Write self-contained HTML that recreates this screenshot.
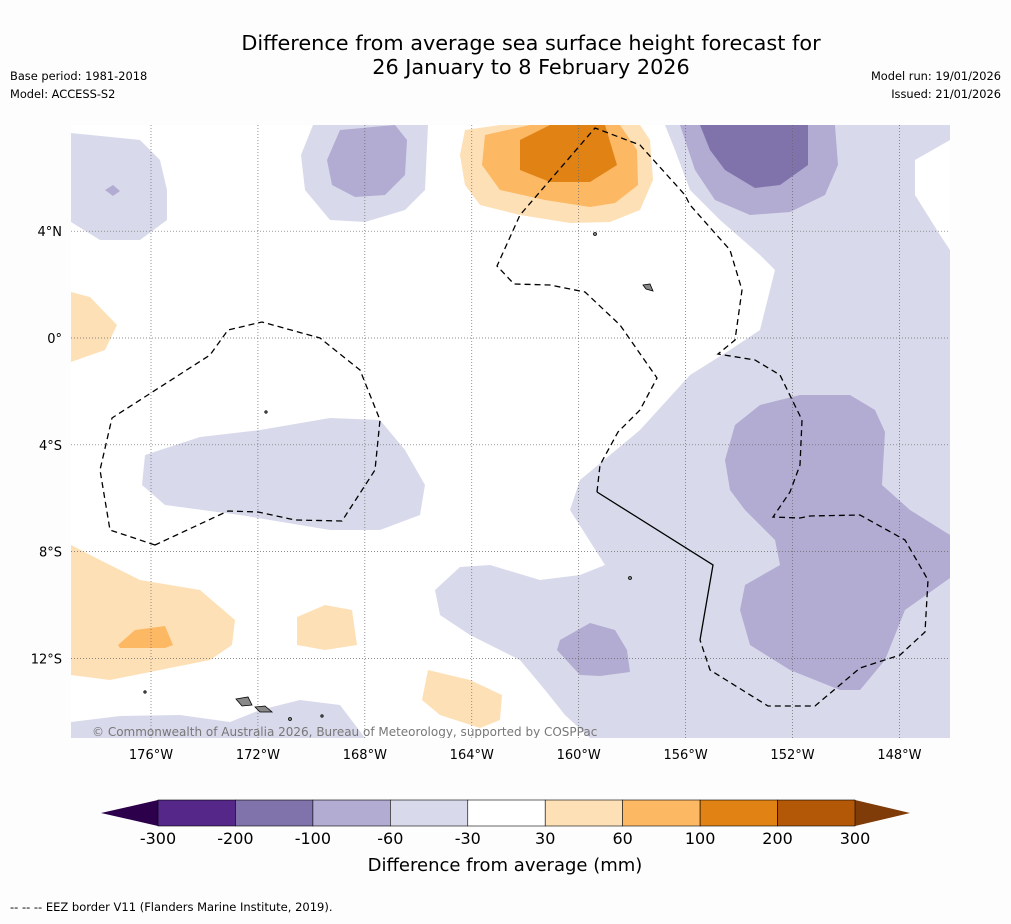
<!DOCTYPE html>
<html><head><meta charset="utf-8"><style>
body{margin:0;background:#fdfdfd;font-family:"Liberation Sans","DejaVu Sans",sans-serif;}
svg text{font-family:"DejaVu Sans","Liberation Sans",sans-serif;}
</style></head><body>
<svg id="s" width="1011" height="919" viewBox="0 0 1011 919" xmlns="http://www.w3.org/2000/svg">
<rect width="1011" height="919" fill="#fdfdfd"/>
<text x="531" y="50" font-size="20.8" text-anchor="middle">Difference from average sea surface height forecast for</text>
<text x="531" y="74" font-size="20.8" text-anchor="middle">26 January to 8 February 2026</text>
<text x="10" y="80" font-size="11.4">Base period: 1981-2018</text>
<text x="10" y="98" font-size="11.4">Model: ACCESS-S2</text>
<text x="1001" y="80" font-size="11.4" text-anchor="end">Model run: 19/01/2026</text>
<text x="1001" y="98" font-size="11.4" text-anchor="end">Issued: 21/01/2026</text>
<defs><clipPath id="mc"><rect x="71" y="125" width="879" height="613"/></clipPath></defs>
<g clip-path="url(#mc)">
<rect x="71" y="125" width="879" height="613" fill="#fff"/>
<g fill="#d8daeb">
<polygon points="71,133 140,140 160,160 167,190 167,220 140,240 100,240 71,222"/>
<polygon points="313,125 428,125 425,190 405,210 365,222 330,220 305,190 301,155"/>
<polygon points="665,125 950,125 950,140 915,160 915,195 940,235 950,250 950,738 590,738 565,715 545,690 520,660 470,635 440,615 435,590 460,567 490,565 540,580 580,575 605,565 570,510 580,480 640,430 690,375 730,350 760,330 775,270 760,255 720,220 690,190 675,150"/>
<polygon points="145,455 200,437 260,430 330,418 380,420 405,450 425,485 420,515 380,530 330,530 240,515 165,505 142,485"/>
<polygon points="71,722 120,716 180,715 230,722 260,710 300,700 340,705 365,738 71,738"/>
</g>
<g fill="#b2abd2">
<polygon points="340,130 395,125 407,140 405,175 385,195 355,197 332,185 327,160"/>
<polygon points="680,125 835,125 838,165 825,195 790,212 750,215 715,200 695,170"/>
<polygon points="735,425 760,405 800,395 850,395 875,410 885,432 882,485 910,510 950,535 950,578 905,610 885,660 860,690 840,690 790,670 750,645 740,610 745,585 780,565 775,540 745,510 730,490 725,460"/>
<polygon points="105,190 113,185 120,191 113,196"/>
<polygon points="560,640 590,623 615,630 627,650 630,672 600,676 580,675 557,650"/>
</g>
<polygon fill="#8073ac" points="700,125 808,125 808,165 780,185 755,188 725,170 710,150"/>
<g fill="#fee0b6">
<polygon points="465,130 500,125 640,125 650,140 653,180 640,210 610,222 570,223 520,215 480,205 465,185 460,155"/>
<polygon points="71,292 90,297 117,325 105,350 71,362"/>
<polygon points="71,545 100,560 140,580 200,590 235,620 232,645 210,660 150,672 110,680 71,675"/>
<polygon points="297,617 325,605 352,610 357,645 325,650 297,645"/>
<polygon points="428,670 470,680 502,695 500,720 480,728 440,715 422,700"/>
</g>
<g fill="#fdb863">
<polygon points="485,135 530,125 620,125 637,150 638,185 615,203 590,207 545,200 500,190 482,165"/>
<polygon points="118,645 135,630 165,626 173,645 165,648 120,648"/>
</g>
<polygon fill="#e08214" points="520,140 550,125 605,125 617,165 590,182 550,182 520,170"/>
<g id="grid" stroke="#666" stroke-width="0.7" stroke-dasharray="1,2"></g>
<g fill="none" stroke="#000" stroke-width="1.3">
<polyline stroke-dasharray="6,4" points="155,545 110,530 100,470 112,418 210,355 228,330 262,322 320,338 360,370 380,420 375,470 342,521 295,520 258,512 228,511 155,545"/>
<polyline stroke-dasharray="6,4" points="597,492 600,465 618,432 640,410 657,378 620,325 585,292 550,285 514,284 497,266 520,215 595,128 640,145 667,175 685,195 690,205 730,250 742,290 735,340 718,354 755,360 780,375 802,420 800,465 790,492 773,517 800,518 810,516 860,515 905,540 928,580 925,632 900,655 860,668 815,706 768,706 710,670 700,640"/>
<polyline points="597,492 713,565 700,640"/>
</g>
<g fill="#888" stroke="#000" stroke-width="0.8">
<polygon points="236,699 248,697 252,705 242,706"/>
<polygon points="255,707 265,706 272,712 260,712"/>
<polygon points="643,285 650,284 653,291 646,289"/>
<circle cx="595" cy="234" r="1.5"/><circle cx="630" cy="578" r="1.5"/><circle cx="266" cy="412" r="1.2"/>
<circle cx="145" cy="692" r="1.2"/><circle cx="290" cy="719" r="1.5"/><circle cx="322" cy="716" r="1.2"/>
</g>
<text x="92" y="736" font-size="12" fill="#777">© Commonwealth of Australia 2026, Bureau of Meteorology, supported by COSPPac</text>
</g>
<g id="axes" font-size="13"></g>
<g id="cbar"></g>
<text x="505" y="871" font-size="18" text-anchor="middle">Difference from average (mm)</text>
<text x="10" y="911" font-size="11.5">--  --  -- EEZ border V11 (Flanders Marine Institute, 2019).</text>
</svg>
<script>
const lonLabels=["176°W","172°W","168°W","164°W","160°W","156°W","152°W","148°W"];
const lonValues=[-176,-172,-168,-164,-160,-156,-152,-148];
const latLabels=["4°N","0°","4°S","8°S","12°S"];
const latValues=[4,0,-4,-8,-12];
const levels=["-300","-200","-100","-60","-30","30","60","100","200","300"];
const colors=["#542788","#8073ac","#b2abd2","#d8daeb","#ffffff","#fee0b6","#fdb863","#e08214","#b35806"];
const extLow="#2d004b", extHigh="#7f3b08";
const NS="http://www.w3.org/2000/svg";
const xs=lon=>151+(lon+176)*26.73;
const ys=lat=>338-lat*26.7;
function mk(t,a,p){const e=document.createElementNS(NS,t);for(const k in a)e.setAttribute(k,a[k]);p.appendChild(e);return e;}
const grid=document.getElementById('grid'),axes=document.getElementById('axes');
lonValues.forEach((v,i)=>{const x=xs(v);
const l=mk('line',{x1:x,x2:x,y1:125,y2:738},grid);


const t=mk('text',{x:x,y:759,'text-anchor':'middle'},axes);t.textContent=lonLabels[i];

});
latValues.forEach((v,i)=>{const y=ys(v);
const l=mk('line',{x1:71,x2:950,y1:y,y2:y},grid);


const t=mk('text',{x:62,y:y+5,'text-anchor':'end'},axes);t.textContent=latLabels[i];

});
const cb=document.getElementById('cbar');const x0=158,x1=855,y0=800,h=26,w=(x1-x0)/colors.length;
const lo=mk('polygon',{points:`${x0},${y0} ${x0},${y0+h} 101,${y0+h/2}`,fill:extLow},cb);


const hi=mk('polygon',{points:`${x1},${y0} ${x1},${y0+h} 910,${y0+h/2}`,fill:extHigh},cb);


colors.forEach((c,i)=>{const r=mk('rect',{x:x0+i*w,y:y0,width:w,height:h,fill:c,stroke:'#000','stroke-width':0.6},cb);

});
levels.forEach((l,i)=>{const t=mk('text',{x:x0+i*w,y:844,'font-size':16,'text-anchor':'middle'},cb);t.textContent=l;

});
</script>
</body></html>
